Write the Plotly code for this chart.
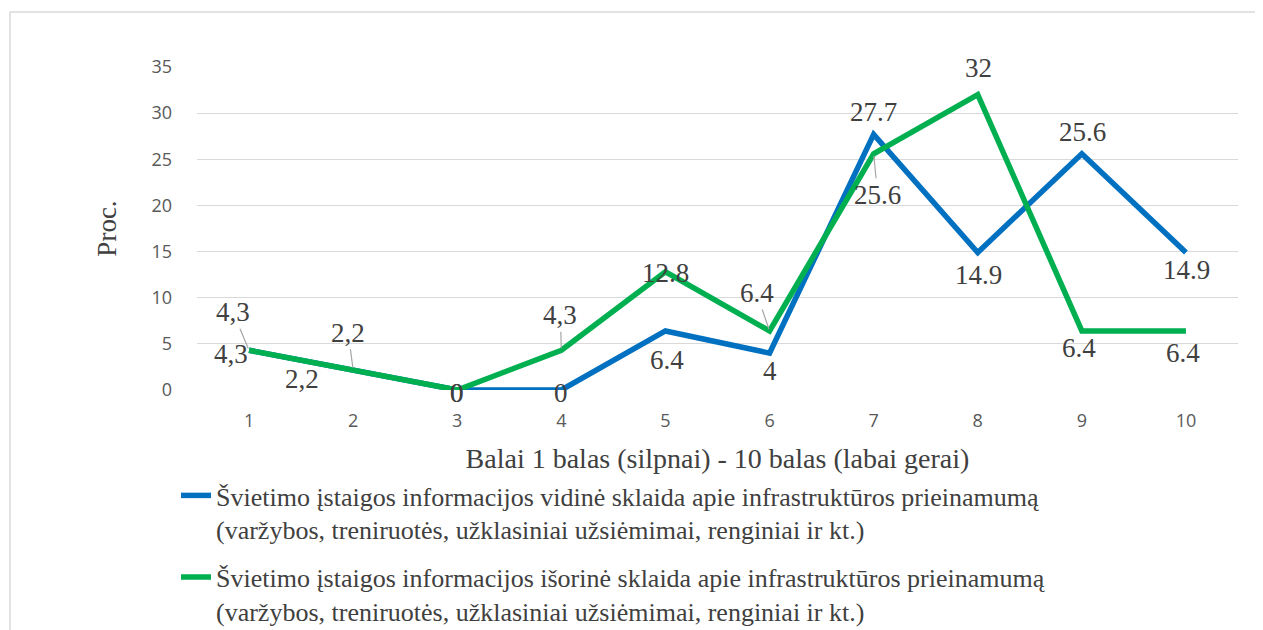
import plotly.graph_objects as go

categories = [1, 2, 3, 4, 5, 6, 7, 8, 9, 10]
tick_labels = ["1", "2", "3", "4", "5", "6", "7", "8", "9", "10"]
vidine = [4.3, 2.2, 0, 0, 6.4, 4, 27.7, 14.9, 25.6, 14.9]
isorine = [4.3, 2.2, 0, 4.3, 12.8, 6.4, 25.6, 32, 6.4, 6.4]
vidine_labels = ["4,3", "2,2", "0", "0", "6.4", "4", "27.7", "14.9", "25.6", "14.9"]
isorine_labels = ["4,3", "2,2", "0", "4,3", "12.8", "6.4", "25.6", "32", "6.4", "6.4"]
name_vidine = "Švietimo įstaigos informacijos vidinė sklaida apie infrastruktūros prieinamumą<br>(varžybos, treniruotės, užklasiniai užsiėmimai, renginiai ir kt.)"
name_isorine = "Švietimo įstaigos informacijos išorinė sklaida apie infrastruktūros prieinamumą<br>(varžybos, treniruotės, užklasiniai užsiėmimai, renginiai ir kt.)"

BLUE = "#0070C0"
GREEN = "#00B050"
SERIF = "Liberation Serif"
SANS = "Open Sans"

fig = go.Figure()
fig.add_trace(go.Scatter(x=categories, y=vidine, mode="lines", name=name_vidine, legendgroup="a",
                         line=dict(color=BLUE, width=5.5), hoverinfo="x+y"))
fig.add_trace(go.Scatter(x=categories, y=isorine, mode="lines", name=name_isorine, legendgroup="b",
                         line=dict(color=GREEN, width=5.5), hoverinfo="x+y"))

# label offsets (pixels) relative to each point: (dx, dy) with dy positive downward
blue_off = [(-18, 4), (-51, 9), (0, 3), (0, 3), (2, 29), (0, 18), (0, -22), (1, 23), (1, -22), (1, 18)]
green_off = [(-16, -38), (-5, -37), (0, 3), (-1, -35), (0, 1), (-13, -38), (4, 41), (1, -27), (-3, 17), (-3, 22)]
green_leader = [True, True, False, True, False, True, True, False, False, False]

lab_font = dict(family=SERIF, size=27, color="#404040")
annotations = []
for x, y, t, (dx, dy) in zip(categories, vidine, vidine_labels, blue_off):
    annotations.append(dict(x=x, y=y, xref="x", yref="y", text=t, showarrow=False,
                            xshift=dx, yshift=-dy, font=lab_font))
for x, y, t, (dx, dy), ld in zip(categories, isorine, isorine_labels, green_off, green_leader):
    if ld:
        annotations.append(dict(x=x, y=y, xref="x", yref="y", text=t, showarrow=True,
                                ax=dx, ay=dy, arrowhead=0, arrowwidth=1.2, arrowcolor="#A6A6A6",
                                standoff=2, font=lab_font))
    else:
        annotations.append(dict(x=x, y=y, xref="x", yref="y", text=t, showarrow=False,
                                xshift=dx, yshift=-dy, font=lab_font))

# page has an 8px body margin; page px = figure px + 8
OFF = 8
W, H = 1263 - OFF, 630 - OFF
L, T = 197 - OFF, 67 - OFF
R = W - (1238 - OFF)
B = H - (390 - OFF)
pw = W - L - R
ph = H - T - B

def px_x(p):
    return (p - OFF - L) / pw

def px_y(p):
    return (H - B - (p - OFF)) / ph

fig.update_layout(
    width=W, height=H,
    margin=dict(l=L, r=R, t=T, b=B, autoexpand=False),
    paper_bgcolor="white", plot_bgcolor="white",
    xaxis=dict(range=[0.5, 10.5], tickmode="array", tickvals=categories, ticktext=tick_labels,
               showgrid=False, zeroline=False, showline=False, ticks="", ticklabelstandoff=18,
               tickfont=dict(family=SANS, size=18, color="#595959"),
               title=dict(text="Balai 1 balas (silpnai) - 10 balas (labai gerai)",
                          font=dict(family=SERIF, size=28, color="#404040"), standoff=17)),
    yaxis=dict(range=[0, 35], tickvals=[0, 5, 10, 15, 20, 25, 30, 35],
               showgrid=True, gridcolor="#D9D9D9", gridwidth=1.3, zeroline=False, showline=False,
               ticks="", ticklabelstandoff=24,
               tickfont=dict(family=SANS, size=18, color="#595959"),
               title=dict(text="Proc.", font=dict(family=SERIF, size=27, color="#404040"), standoff=26)),
    showlegend=True,
    legend=dict(x=px_x(176), y=px_y(472), xanchor="left", yanchor="top", valign="top",
                traceorder="grouped", tracegroupgap=11,
                font=dict(family=SERIF, size=26, color="#404040"),
                bgcolor="rgba(0,0,0,0)", itemwidth=30),
    annotations=annotations,
    shapes=[dict(type="rect", xref="paper", yref="paper",
                 x0=px_x(10), x1=px_x(1275), y0=px_y(640), y1=px_y(12),
                 line=dict(color="#D9D9D9", width=1.5), fillcolor="rgba(0,0,0,0)", layer="below")],
)

fig.write_html("out.html")
